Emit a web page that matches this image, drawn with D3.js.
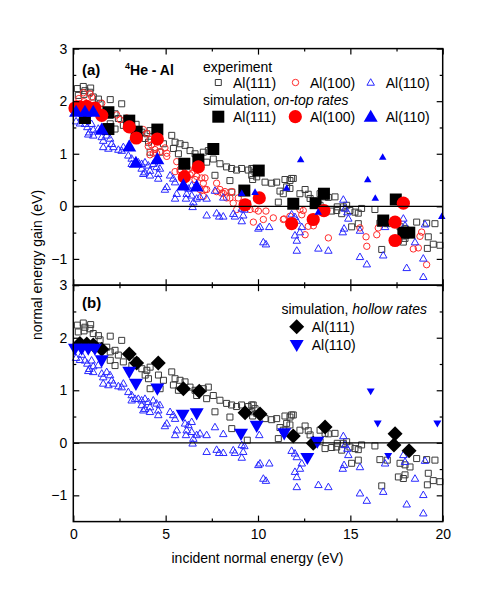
<!DOCTYPE html>
<html><head><meta charset="utf-8">
<script src="https://cdn.jsdelivr.net/npm/d3@7"></script>
<style>body{margin:0;background:#fff}svg{display:block;font-family:"Liberation Sans",Arial,Helvetica,sans-serif}</style>
</head><body><svg id="c" width="491" height="591"></svg>
<script>
// ---------- data ----------
const xTicks=[0,5,10,15,20];
const xMinor=[2.5,7.5,12.5,17.5];
const yTicks=[-1,0,1,2,3];
const yMinor=[-0.5,0.5,1.5,2.5];
const xLabel="incident normal energy (eV)";
const yLabel="normal energy gain (eV)";

// experiment Al(111) (open squares)
const exp111=[[0.22,2.24],[0.54,2.28],[0.63,2.2],[0.94,2.25],[0.90,2.17],[0.27,2.11],[0.58,2.13],[1.08,2.08],[1.36,2.04],[1.45,1.96],[2.0,2.03],[2.62,1.95],[1.81,1.82],[2.0,1.73],[2.26,1.76],[2.44,1.67],[2.0,1.57],[2.26,1.47],[2.71,1.54],[3.17,1.47],[3.4,1.56],[3.71,1.41],[3.98,1.38],[4.16,1.44],[3.89,1.29],[4.07,1.22],[4.61,1.29],[4.88,1.19],[5.33,1.35],[5.51,1.22],[5.78,1.19],[5.42,1.10],[6.05,1.16],[6.32,1.06],[6.59,1.0],[7.04,1.03],[7.31,1.06],[7.58,0.90],[7.22,0.84],[7.94,0.81],[8.3,0.75],[8.57,0.72],[8.84,0.69],[9.11,0.72],[9.47,0.69],[9.74,0.72],[4.16,1.03],[4.7,1.03],[5.69,1.0],[6.68,0.90],[7.67,0.59],[8.48,0.49],[8.58,0.27],[9.42,0.05],[9.71,0.51],[9.66,0.59],[9.93,0.56],[10.38,0.46],[10.74,0.44],[11.01,0.46],[11.46,0.51],[11.82,0.53],[11.55,0.37],[11.73,0.34],[11.19,0.29],[11.37,0.24],[11.10,0.08],[12.27,0.24],[12.55,0.32],[12.72,0.23],[12.82,0.15],[13.36,0.24],[13.63,0.18],[13.81,0.17],[14.17,0.18],[13.36,0.02],[13.63,-0.11],[13.99,-0.09],[14.26,-0.08],[14.29,-0.01],[14.62,-0.01],[14.8,0.02],[14.53,-0.14],[14.98,-0.08],[15.25,-0.11],[15.43,-0.13],[15.61,-0.04],[16.33,-0.06],[15.07,-0.39],[15.43,-0.33],[16.6,-0.32],[17.0,-0.33],[17.69,-0.39],[17.96,-0.42],[18.23,-0.46],[18.59,-0.30],[19.13,-0.32],[19.58,-0.33],[17.6,-0.65],[17.96,-0.61],[17.87,-0.68],[19.22,-0.58],[19.49,-0.72],[19.17,-0.80],[19.85,-0.74],[16.7,-0.82],[9.66,0.72],[9.84,0.65],[11.91,0.53],[11.73,0.49]];
// experiment Al(100) (open circles)
const exp100=[[0.15,1.95],[0.3,2.05],[0.54,2.16],[0.90,2.14],[1.0,2.08],[0.58,1.99],[1.54,1.96],[1.3,1.88],[2.35,1.74],[2.53,1.65],[2.89,1.68],[3.79,1.46],[3.97,1.39],[4.15,1.27],[4.24,1.17],[4.42,1.08],[4.69,1.04],[4.96,1.11],[5.06,1.01],[4.33,1.01],[5.6,0.85],[5.78,0.70],[6.32,0.60],[6.59,0.51],[4.06,1.14],[4.15,0.98],[4.51,1.01],[5.06,0.95],[5.51,0.66],[5.78,0.66],[6.05,0.63],[6.23,0.70],[6.41,0.63],[6.68,0.57],[6.95,0.54],[7.13,0.54],[7.22,0.32],[7.04,0.19],[7.76,0.44],[7.94,0.32],[8.12,0.25],[8.3,0.16],[8.66,0.06],[9.75,-0.30],[10.02,-0.09],[7.04,0.44],[6.86,0.32],[7.13,0.32],[7.76,0.28],[8.03,0.25],[8.21,0.28],[8.58,0.28],[8.48,0.16],[8.93,0.16],[8.85,-0.06],[9.57,-0.06],[9.84,-0.05],[10.29,-0.25],[10.83,-0.22],[11.37,-0.25],[11.73,-0.19],[12.27,-0.06],[12.37,-0.16],[12.72,-0.38],[12.55,-0.54],[10.43,-0.09],[11.41,-0.24],[12.45,-0.08],[13.0,-0.37],[13.81,-0.60],[15.52,-0.41],[15.85,-0.58],[15.89,-0.76],[16.51,-0.41],[16.43,-0.54],[18.41,-0.81],[18.68,-0.79],[18.77,-0.57],[18.86,-0.49],[19.13,-1.11]];
// experiment Al(110) (open triangles)
const exp110=[[0.15,1.62],[0.45,1.68],[0.36,1.58],[0.63,1.57],[0.76,1.51],[0.87,1.41],[0.81,1.37],[0.99,1.57],[1.08,1.46],[1.08,1.35],[1.35,1.48],[1.54,1.32],[1.62,1.25],[1.81,1.35],[1.99,1.29],[2.08,1.19],[1.62,1.13],[1.9,1.10],[2.17,1.13],[2.44,1.08],[2.62,1.06],[2.71,1.13],[2.98,0.97],[3.16,0.91],[3.34,0.84],[3.52,0.84],[3.70,0.81],[3.88,0.84],[4.06,0.78],[4.33,0.81],[4.51,0.75],[4.69,0.72],[4.60,0.62],[4.15,0.68],[3.70,0.72],[3.88,0.65],[3.16,0.81],[5.24,0.59],[5.41,0.53],[3.79,0.62],[4.15,0.59],[4.6,0.53],[5.06,0.37],[4.96,0.32],[5.51,0.46],[5.6,0.24],[5.51,0.15],[6.05,0.37],[6.23,0.34],[6.41,0.40],[6.14,0.24],[6.10,0.15],[6.41,0.21],[6.5,0.08],[6.46,-0.01],[6.68,0.15],[6.86,0.18],[7.22,0.15],[7.67,0.30],[8.12,0.17],[7.22,-0.17],[7.76,-0.13],[7.90,-0.19],[8.12,-0.19],[8.66,-0.14],[8.75,-0.19],[9.12,-0.04],[9.26,-0.06],[9.2,-0.17],[9.12,-0.28],[10.02,-0.42],[10.07,0.15],[10.11,-0.39],[10.61,-0.39],[10.29,-0.68],[10.43,-0.72],[11.82,-0.15],[12.0,-0.20],[12.1,-0.27],[12.0,-0.55],[12.1,-0.65],[12.37,-0.39],[12.27,-0.49],[12.1,-0.84],[13.27,-0.80],[13.81,-0.84],[14.62,0.13],[14.71,-0.04],[14.84,-0.11],[14.89,-0.23],[14.59,-0.49],[14.66,-0.42],[15.52,-0.46],[15.52,-0.96],[15.89,-1.10],[16.88,-0.39],[16.78,-0.93],[17.87,-0.23],[17.96,-0.36],[18.05,-1.17],[18.5,-0.68],[18.95,-0.99],[18.95,-1.34],[19.04,-0.34]];

// simulation, on-top rates
const simTop111=[[0.63,1.68],[1.9,1.79],[1.9,1.47],[3.03,1.63],[3.43,1.42],[4.55,1.46],[6.01,0.81],[6.77,0.89],[7.58,1.09],[9.26,0.30],[10.04,0.68],[11.91,0.05],[13.12,0.06],[13.57,0.24],[16.78,-0.27],[17.46,0.13],[17.87,-0.50],[18.19,-0.50]];
const simTop100=[[0.09,1.87],[0.36,1.89],[0.73,1.90],[1.17,1.87],[1.54,1.73],[3.03,1.51],[3.41,1.30],[4.55,1.28],[6.01,0.56],[6.77,0.75],[9.30,0.03],[10.07,0.16],[11.82,-0.33],[12.99,-0.25],[13.57,-0.08],[17.42,-0.30],[17.42,-0.65],[17.87,0.06]];
const simTop110=[[0.15,1.80],[0.63,1.80],[1.08,1.80],[1.54,1.46],[3.03,1.14],[3.39,0.83],[4.55,0.90],[5.96,0.40],[6.68,0.38],[9.12,0.25],[9.84,0.27],[11.55,0.35],[12.31,0.89],[13.26,-0.11],[15.94,0.51],[16.35,0.16],[16.75,0.94],[19.95,-0.19]];
// simulation, hollow rates
const simHol111=[[0.36,1.89],[0.73,1.88],[1.08,1.86],[1.54,1.78],[3.03,1.69],[3.43,1.52],[4.60,1.52],[5.96,1.03],[6.82,0.98],[9.30,0.57],[10.11,0.55],[11.91,0.13],[12.99,-0.01],[13.63,0.30],[17.42,0.17],[17.36,-0.04],[18.18,-0.15]];
const simHol110=[[0.09,1.79],[0.45,1.79],[0.81,1.79],[1.17,1.79],[1.54,1.57],[3.03,1.35],[3.39,1.12],[4.55,1.03],[5.92,0.53],[6.68,0.56],[9.08,0.17],[9.93,0.32],[11.42,0.18],[12.67,-0.29],[13.21,0.02],[16.10,0.98],[16.48,0.37],[17.05,-0.25],[19.71,0.37]];

// ---------- drawing ----------
const svg=d3.select('#c');
const x=d3.scaleLinear().domain([0,20]).range([73.3,442.7]);
const yA=d3.scaleLinear().domain([-1.5,3]).range([285.2,48.6]);
const yB=d3.scaleLinear().domain([-1.5,3]).range([521.6,285.2]);

const sq=s=>`M${-s/2},${-s/2}h${s}v${s}h${-s}Z`;
const triUp=w=>{const h=w*0.87;return `M0,${-h*0.58}L${w/2},${h*0.42}L${-w/2},${h*0.42}Z`;};
const triDn=w=>{const h=w*0.87;return `M0,${h*0.58}L${w/2},${-h*0.42}L${-w/2},${-h*0.42}Z`;};
const dia=d=>`M0,${-d/2}L${d/2},0L0,${d/2}L${-d/2},0Z`;

function pts(g,data,y,shape,fill,stroke,sw){
  g.append('g').selectAll('path').data(data).join('path')
   .attr('transform',d=>`translate(${x(d[0])},${y(d[1])})`)
   .attr('d',typeof shape==='function'?shape:()=>shape)
   .attr('fill',fill).attr('stroke',stroke).attr('stroke-width',sw);
}
function circ(g,data,y,r,fill,stroke,sw){
  g.append('g').selectAll('circle').data(data).join('circle')
   .attr('cx',d=>x(d[0])).attr('cy',d=>y(d[1])).attr('r',r)
   .attr('fill',fill).attr('stroke',stroke).attr('stroke-width',sw);
}

function axes(y,showX){
  const r=y.range();
  const g=svg.append('g');
  const mk=(ax,tr)=>{const a=g.append('g').attr('transform',tr).call(ax);a.select('.domain').remove();
    a.selectAll('line').attr('stroke','#000').attr('stroke-width',1.2);
    a.selectAll('text').attr('font-size',14).attr('fill','#000').attr('font-family','"Liberation Sans",Arial,sans-serif');return a;};
  mk(d3.axisBottom(x).tickValues(xTicks).tickSize(-6).tickPadding(7).tickFormat(showX?d3.format('d'):()=>''),`translate(0,${r[0]})`);
  mk(d3.axisBottom(x).tickValues(xMinor).tickSize(-3).tickFormat(()=>''),`translate(0,${r[0]})`);
  mk(d3.axisTop(x).tickValues(xTicks).tickSize(-6).tickFormat(()=>''),`translate(0,${r[1]})`);
  mk(d3.axisTop(x).tickValues(xMinor).tickSize(-3).tickFormat(()=>''),`translate(0,${r[1]})`);
  mk(d3.axisLeft(y).tickValues(yTicks).tickSize(-6).tickPadding(6).tickFormat(d3.format('d')),`translate(${x(0)},0)`);
  mk(d3.axisLeft(y).tickValues(yMinor).tickSize(-3).tickFormat(()=>''),`translate(${x(0)},0)`);
  mk(d3.axisRight(y).tickValues(yTicks).tickSize(-6).tickFormat(()=>''),`translate(${x(20)},0)`);
  mk(d3.axisRight(y).tickValues(yMinor).tickSize(-3).tickFormat(()=>''),`translate(${x(20)},0)`);
  g.append('line').attr('x1',x(0)).attr('x2',x(20)).attr('y1',y(0)).attr('y2',y(0)).attr('stroke','#000').attr('stroke-width',1.3);
  g.append('rect').attr('x',x(0)).attr('y',r[1]).attr('width',x(20)-x(0)).attr('height',r[0]-r[1])
   .attr('fill','none').attr('stroke','#000').attr('stroke-width',1.5);
}

const C_SQ='#3a3a3a', C_RD='#ff2a2a', C_BL='#2a2aff';

// panel (a)
const gA=svg.append('g');
pts(gA,exp111,yA,sq(6),'none',C_SQ,1);
circ(gA,exp100,yA,3.2,'none',C_RD,1);
pts(gA,exp110,yA,triUp(7.5),'none',C_BL,1);
pts(gA,simTop111,yA,sq(12),'#000','none',0);
circ(gA,simTop100,yA,6.6,'#ff0000','none',0);
pts(gA,simTop110,yA,d=>d[0]>8.5?triUp(7.5):triUp(14),'#0000ff','none',0);
axes(yA,false);

// panel (b)
const gB=svg.append('g');
pts(gB,exp111,yB,sq(6),'none',C_SQ,1);
pts(gB,exp110,yB,triUp(7.5),'none',C_BL,1);
pts(gB,simHol111,yB,dia(15),'#000','none',0);
pts(gB,simHol110,yB,d=>d[0]>15?triDn(8):triDn(14),'#0000ff','none',0);
axes(yB,true);

// ---------- text ----------
const T=(xx,yy,txt,opt={})=>{const t=svg.append('text').attr('x',xx).attr('y',yy).attr('font-size',opt.size||14).attr('fill','#000');
  if(opt.bold)t.attr('font-weight','bold'); if(opt.anchor)t.attr('text-anchor',opt.anchor); if(txt!==null)t.text(txt); return t;};

T(82,75,'(a)',{bold:true,size:15});
const he=T(125,75,null,{bold:true});
he.append('tspan').attr('font-size',9).attr('dy',-6).text('4');
he.append('tspan').attr('dy',6).text('He - Al');
T(82,308,'(b)',{bold:true,size:15});

// legend (a)
T(203,71.5,'experiment');
const L1y=82.5, L2y=116.7;
svg.append('path').attr('d',sq(6)).attr('transform',`translate(218.3,${L1y})`).attr('fill','none').attr('stroke',C_SQ).attr('stroke-width',1);
svg.append('circle').attr('cx',295.5).attr('cy',L1y).attr('r',3.2).attr('fill','none').attr('stroke',C_RD).attr('stroke-width',1);
svg.append('path').attr('d',triUp(7.5)).attr('transform',`translate(370.7,${L1y})`).attr('fill','none').attr('stroke',C_BL).attr('stroke-width',1);
T(233,L1y+5,'Al(111)'); T(310,L1y+5,'Al(100)'); T(385.7,L1y+5,'Al(110)');
const s2=T(203,105,'simulation, ');
s2.append('tspan').attr('font-style','italic').text('on-top rates');
svg.append('path').attr('d',sq(12)).attr('transform',`translate(218.3,${L2y})`).attr('fill','#000');
svg.append('circle').attr('cx',295.3).attr('cy',L2y).attr('r',6.6).attr('fill','#ff0000');
svg.append('path').attr('d',triUp(14)).attr('transform',`translate(370.7,${L2y})`).attr('fill','#0000ff');
T(233,L2y+5,'Al(111)'); T(310,L2y+5,'Al(100)'); T(385.7,L2y+5,'Al(110)');

// legend (b)
const s3=T(281.5,314,'simulation, ');
s3.append('tspan').attr('font-style','italic').text('hollow rates');
svg.append('path').attr('d',dia(15)).attr('transform','translate(296.7,326.7)').attr('fill','#000');
svg.append('path').attr('d',triDn(14)).attr('transform','translate(296.7,345)').attr('fill','#0000ff');
T(311.7,331.7,'Al(111)'); T(311.7,350,'Al(110)');

// axis titles
T(257.5,563,xLabel,{anchor:'middle'});
T(0,0,yLabel,{anchor:'middle'}).attr('transform','translate(42,265) rotate(-90)');
</script></body></html>
